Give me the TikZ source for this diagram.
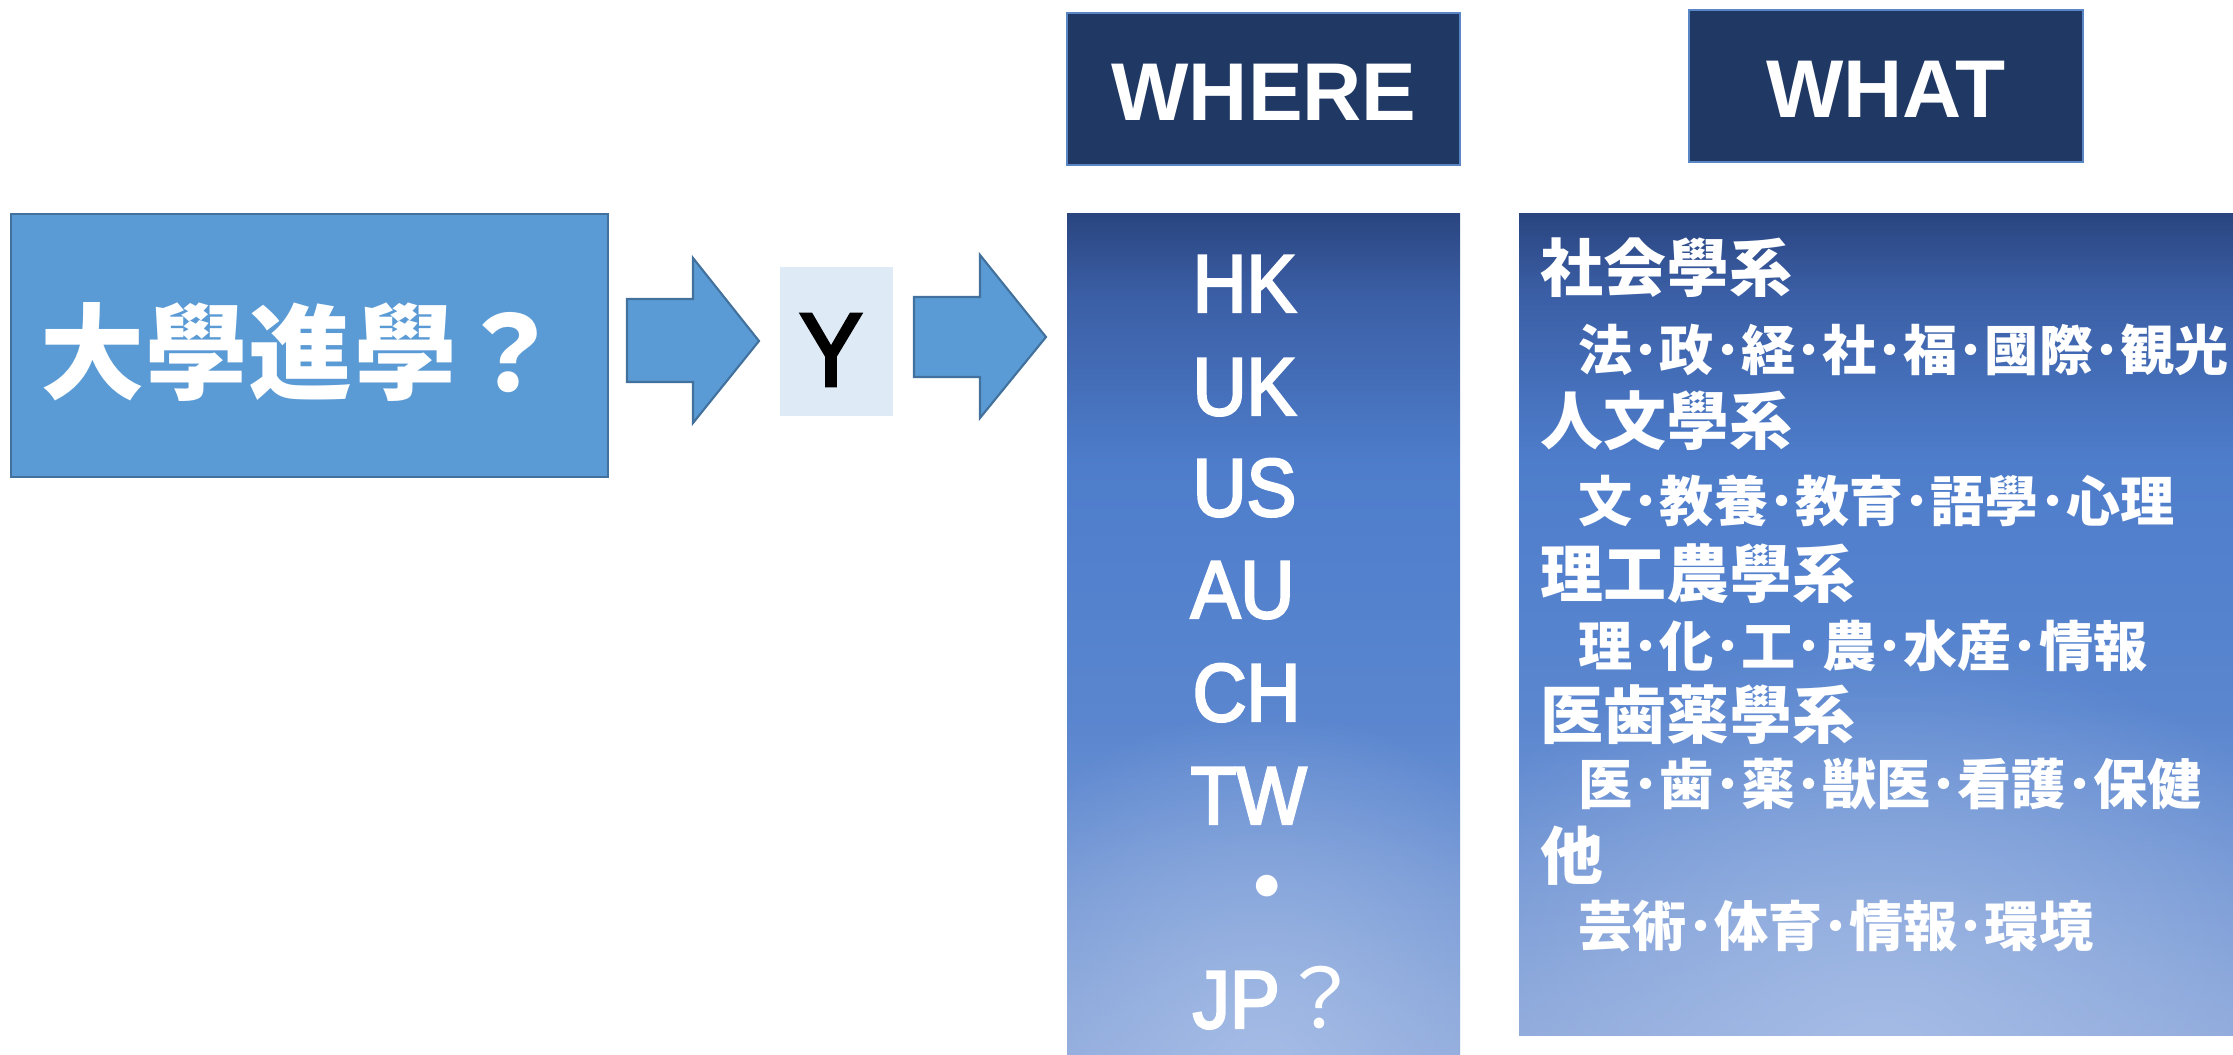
\documentclass[tikz,border=0pt]{standalone}
\usepackage{fontspec}
\setmainfont{Liberation Sans}
\newfontfamily\cjk{Noto Sans CJK JP}
\newfontfamily\listfont{Liberation Sans}[FakeStretch=0.91, FakeBold=3]
\usetikzlibrary{fadings}
\definecolor{boxblue}{HTML}{5B9BD5}
\definecolor{edgeblue}{HTML}{41719C}
\definecolor{ypale}{HTML}{DEEBF7}
\definecolor{navy}{HTML}{203864}
\definecolor{navyedge}{HTML}{5A86C5}
\definecolor{ptop}{HTML}{2A4580}
\definecolor{ptopb}{HTML}{3B5FA6}
\definecolor{pmid}{HTML}{4E7DCB}
\definecolor{pmidb}{HTML}{5A86CF}
\definecolor{pbot}{HTML}{8AA5D9}
\definecolor{glow}{HTML}{A8BFE7}
\pgfdeclareverticalshading{panelshade}{100bp}{color(0bp)=(pbot); color(25bp)=(pbot); color(45bp)=(pmidb); color(60bp)=(pmid); color(70bp)=(ptopb); color(75bp)=(ptop); color(100bp)=(ptop)}
\tikzfading[name=glowfade, inner color=transparent!10, outer color=transparent!100]
\tikzset{
  bigbox/.style={fill=boxblue, draw=edgeblue, line width=0.6pt},
  blockarrow/.style={fill=boxblue, draw=edgeblue, line width=0.6pt, line join=miter},
  header/.style={fill=navy, draw=navyedge, line width=0.6pt},
  headtext/.style={text=white, font=\fontsize{23.3}{26}\selectfont\bfseries, inner sep=0pt},
  listtext/.style={text=white, font=\listfont\fontsize{23.3}{26}\selectfont, inner sep=0pt, anchor=base west},
  cathead/.style={text=white, font=\cjk\bfseries\fontsize{17.9}{20}\selectfont, inner sep=0pt, anchor=west},
  catsub/.style={text=white, font=\cjk\bfseries\fontsize{15.4}{18}\selectfont, inner sep=0pt, anchor=west},
}
\begin{document}
\begin{tikzpicture}[x=0.01cm, y=-0.01cm]
\useasboundingbox (0,0) rectangle (2233,1055);
% main box
\draw[bigbox] (11,214) rectangle (608,477);
\node[text=white, font=\cjk\bfseries\fontsize{29.6}{32}\selectfont, inner sep=0pt] (q) at (301,352) {大學進學？};
% arrows
\draw[blockarrow] (627,299) -- (693,299) -- (693,258) -- (759,341) -- (693,423) -- (693,382) -- (627,382) -- cycle;
\fill[ypale] (780,267) rectangle (893,416);
\node[text=black, font=\listfont\fontsize{29.6}{32}\selectfont, inner sep=0pt] (y) at (831,350) {Y};
\draw[blockarrow] (914,297) -- (980,297) -- (980,255) -- (1046,337) -- (980,418) -- (980,377) -- (914,377) -- cycle;
% headers
\draw[header] (1067,13) rectangle (1460,165);
\node[headtext] (where) at (1264,92) {WHERE};
\draw[header] (1689,10) rectangle (2083,162);
\node[headtext] (what) at (1886,89) {WHAT};
% WHERE panel
\shade[shading=panelshade] (1067,214) rectangle (1460,1055);
\begin{scope}
\clip (1067,214) rectangle (1460,1055);
\fill[glow, path fading=glowfade] (1263,1070) ellipse [x radius=3.4cm, y radius=3.6cm];
\end{scope}
\node[listtext] (hk) at (1192,312) {HK};
\node[listtext] (uk) at (1192,415) {UK};
\node[listtext] (us) at (1192,516) {US};
\node[listtext] (au) at (1190,618) {AU};
\node[listtext] (ch) at (1192,721) {CH};
\node[listtext] (tw) at (1190,824) {TW};
\node[text=white, font=\cjk\bfseries\fontsize{22}{24}\selectfont, inner sep=0pt] (dot) at (1267,895) {・};
\node[listtext] (jp) at (1192,1028) {JP{\cjk ？}};
% WHAT panel
\shade[shading=panelshade] (1519,214) rectangle (2233,1035);
\begin{scope}
\clip (1519,214) rectangle (2233,1035);
\fill[glow, path fading=glowfade] (1880,1060) ellipse [x radius=5.2cm, y radius=4.2cm];
\end{scope}
\node[cathead] (c1) at (1540,268) {社会學系};
\node[catsub] (s1) at (1578,350) {法･政･経･社･福･國際･観光};
\node[cathead] (c2) at (1540,421) {人文學系};
\node[catsub] (s2) at (1578,501) {文･教養･教育･語學･心理};
\node[cathead] (c3) at (1540,574) {理工農學系};
\node[catsub] (s3) at (1578,646) {理･化･工･農･水産･情報};
\node[cathead] (c4) at (1540,715) {医歯薬學系};
\node[catsub] (s4) at (1578,784) {医･歯･薬･獣医･看護･保健};
\node[cathead] (c5) at (1540,856) {他};
\node[catsub] (s5) at (1578,926) {芸術･体育･情報･環境};
\end{tikzpicture}
\end{document}
